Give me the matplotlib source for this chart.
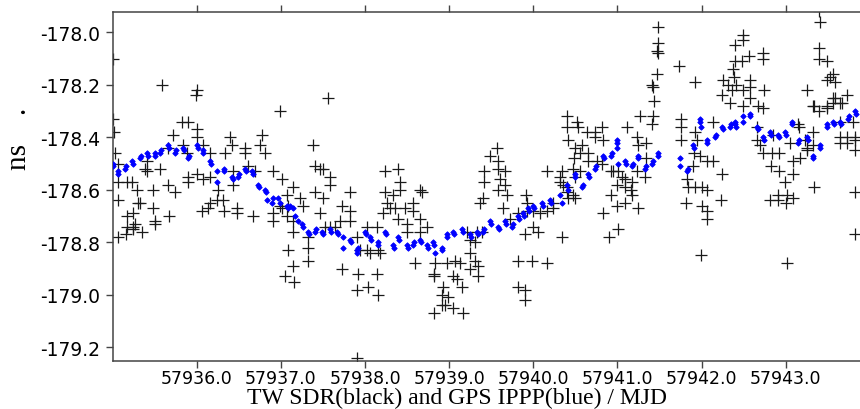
import matplotlib
matplotlib.use("Agg")
import matplotlib.pyplot as plt
from matplotlib.ticker import FixedLocator, FormatStrFormatter

# ---- TW SDR (black crosses): MJD, ns ----
sdr_mjd = [
 57935.00, 57935.01, 57935.02, 57935.03, 57935.06, 57935.06, 57935.17, 57935.23, 57935.29, 57935.41,
 57935.39, 57935.41, 57935.48, 57935.59, 57935.56, 57935.66, 57935.66, 57935.74, 57935.72, 57935.82,
 57935.90, 57935.84, 57935.88, 57935.90, 57935.90, 57936.00, 57935.99, 57936.00, 57936.00, 57936.00,
 57936.07, 57936.07, 57936.16, 57936.16, 57936.25, 57936.34, 57936.40, 57936.42, 57936.43, 57936.43,
 57936.57, 57936.57, 57936.61, 57936.69, 57936.78, 57936.75, 57936.81, 57936.91, 57936.99, 57937.01,
 57937.07, 57937.14,
 57935.06, 57935.17, 57935.24, 57935.17, 57935.24, 57935.27, 57935.24, 57935.35, 57935.16, 57935.06,
 57935.33, 57935.30, 57935.48, 57935.50, 57935.50, 57935.67, 57936.06, 57936.13, 57936.16, 57936.24,
 57936.31, 57936.32, 57936.48, 57936.48, 57936.67, 57936.91, 57936.91, 57937.14, 57937.08, 57937.14,
 57937.05, 57937.16, 57936.99, 57937.07, 57937.14,
 57937.56, 57937.38, 57937.41, 57937.46, 57937.50, 57937.58, 57937.58, 57937.41, 57937.23, 57937.50,
 57937.82, 57938.24, 57938.39, 57938.42, 57938.42, 57938.24, 57938.33, 57938.65, 57938.68, 57939.40,
 57939.41, 57939.41, 57939.49, 57939.57, 57939.58, 57939.58, 57939.66, 57939.61, 57939.66, 57939.58,
 57939.69, 57939.91, 57940.16, 57940.34, 57940.32, 57940.32, 57940.40, 57940.40, 57940.41, 57940.49,
 57940.48, 57940.52, 57940.53, 57940.47, 57940.49, 57940.40, 57940.47,
 57937.01, 57937.08, 57937.26, 57937.46, 57937.32, 57937.32, 57937.32, 57937.52, 57937.58, 57937.64,
 57937.70, 57937.82, 57937.73, 57937.82, 57937.73, 57937.90, 57938.04, 57938.15, 57937.92, 57938.14,
 57937.90, 57937.94, 57938.02, 57938.06, 57938.02, 57938.14, 57938.15, 57938.18, 57938.26, 57938.30,
 57938.36, 57938.21, 57938.39, 57938.47, 57938.57, 57938.57, 57938.50, 57938.65, 57938.74, 57938.50,
 57938.65, 57938.59, 57938.82, 57938.82, 57938.83, 57938.97, 57939.13, 57939.15, 57939.09, 57939.07,
 57939.05, 57938.93, 57938.91, 57938.99, 57938.95, 57938.91, 57939.05, 57938.82, 57939.16, 57939.25,
 57939.31, 57939.34, 57939.34, 57939.25, 57939.25, 57939.31, 57939.33, 57939.21, 57939.37, 57939.39,
 57939.64, 57939.72, 57939.82, 57939.92, 57939.92, 57940.00, 57940.08, 57940.16, 57940.23, 57940.23,
 57939.90, 57940.00, 57940.06, 57939.82, 57939.98, 57940.16, 57939.82, 57939.90, 57939.90, 57940.34,
 57937.90,
 57940.41, 57940.83, 57941.00, 57941.09, 57941.24, 57941.01, 57940.90, 57941.81, 57942.00, 57942.06,
 57942.06, 57942.23, 57941.99, 57942.81, 57942.91, 57943.00, 57943.02, 57943.82,
 57941.48, 57941.48, 57941.47, 57941.48, 57941.47, 57941.41, 57941.42, 57941.43, 57941.42, 57941.41,
 57941.73, 57941.92, 57941.75, 57941.75, 57941.75, 57941.92, 57941.95, 57941.91, 57941.98, 57942.14,
 57942.06, 57942.14, 57941.90, 57941.83, 57941.84, 57941.92, 57942.00, 57942.06, 57942.24, 57942.24,
 57942.25, 57942.31, 57942.34, 57942.40, 57942.40, 57942.48, 57942.49, 57942.49, 57942.37, 57942.39,
 57942.41, 57942.36, 57942.49, 57942.58, 57942.58, 57942.58, 57942.49, 57942.56, 57942.73, 57942.73,
 57942.74, 57942.67, 57942.73, 57942.66, 57942.66, 57942.70, 57942.73, 57942.84, 57942.92, 57942.82,
 57942.92, 57943.09, 57942.99, 57943.09, 57943.17, 57943.15, 57943.16, 57943.05, 57942.85, 57943.23,
 57943.25, 57943.25, 57943.32, 57943.32, 57943.34, 57942.91, 57943.02, 57943.09, 57943.40, 57943.41,
 57943.40, 57943.40, 57943.49, 57943.25, 57943.34, 57943.40, 57943.49, 57943.56, 57943.49, 57943.53,
 57943.56, 57943.59, 57943.59, 57943.67, 57943.73, 57943.65, 57943.73, 57943.82, 57943.65, 57943.73,
 57943.82, 57943.82, 57943.82, 57943.65, 57943.80,
 57940.58, 57940.55, 57940.65, 57940.64, 57940.73, 57940.73, 57940.82, 57940.83, 57940.55, 57940.65,
 57940.76, 57940.82, 57940.92, 57940.95, 57941.01, 57941.00, 57941.09, 57941.06, 57941.09, 57941.11,
 57941.17, 57941.16, 57941.17, 57941.23, 57941.23, 57941.24, 57941.34, 57941.34, 57941.33, 57941.27,
 57940.35, 57940.40, 57940.49, 57940.92,
 57943.56, 57943.32, 57943.49, 57943.65,
]
sdr_ns = [
 -178.10, -178.33, -178.38, -178.46, -178.50, -178.57, -178.57, -178.57, -178.60, -178.49,
 -178.52, -178.53, -178.60, -178.20, -178.52, -178.44, -178.58, -178.61, -178.39, -178.34,
 -178.34, -178.43, -178.46, -178.55, -178.57, -178.22, -178.24, -178.37, -178.40, -178.54,
 -178.56, -178.43, -178.46, -178.55, -178.60, -178.46, -178.40, -178.43, -178.53, -178.58,
 -178.44, -178.46, -178.51, -178.53, -178.39, -178.43, -178.46, -178.53, -178.30, -178.56,
 -178.62, -178.59,
 -178.64, -178.70, -178.69, -178.74, -178.74, -178.73, -178.75, -178.76, -178.77, -178.78,
 -178.65, -178.65, -178.67, -178.72, -178.73, -178.70, -178.68, -178.67, -178.65, -178.64,
 -178.64, -178.68, -178.67, -178.69, -178.70, -178.69, -178.72, -178.76, -178.83, -178.89,
 -178.93, -178.95, -178.66, -178.70, -178.72,
 -178.25, -178.43, -178.51, -178.52, -178.52, -178.55, -178.58, -178.61, -178.63, -178.63,
 -178.61, -178.53, -178.52, -178.57, -178.60, -178.61, -178.62, -178.60, -178.61, -178.63,
 -178.53, -178.57, -178.47, -178.44, -178.49, -178.52, -178.53, -178.56, -178.58, -178.60,
 -178.62, -178.62, -178.53, -178.53, -178.55, -178.57, -178.32, -178.36, -178.41, -178.44,
 -178.48, -178.34, -178.36, -178.52, -178.55, -178.59, -178.62,
 -178.67, -178.66, -178.66, -178.69, -178.78, -178.82, -178.87, -178.74, -178.74, -178.74,
 -178.72, -178.72, -178.66, -178.68, -178.90, -178.98, -178.97, -179.00, -178.92, -178.92,
 -178.78, -178.83, -178.83, -178.84, -178.74, -178.74, -178.83, -178.84, -178.65, -178.67,
 -178.67, -178.69, -178.71, -178.67, -178.68, -178.65, -178.73, -178.71, -178.74, -178.76,
 -178.76, -178.88, -178.92, -178.93, -178.88, -178.88, -178.88, -178.97, -178.94, -178.87,
 -178.93, -178.97, -179.00, -179.01, -179.04, -179.04, -179.05, -179.07, -179.07, -178.84,
 -178.87, -178.89, -178.93, -178.90, -178.79, -178.80, -178.76, -178.76, -178.65, -178.76,
 -178.67, -178.71, -178.69, -178.68, -178.65, -178.68, -178.69, -178.68, -178.67, -178.65,
 -178.77, -178.74, -178.76, -178.87, -178.87, -178.88, -178.97, -178.98, -179.02, -178.78,
 -179.24,
 -178.63, -178.69, -178.66, -178.65, -178.67, -178.75, -178.78, -178.65, -178.66, -178.68,
 -178.71, -178.64, -178.85, -178.64, -178.64, -178.65, -178.88, -178.77,
 -177.98, -178.04, -178.07, -178.08, -178.16, -178.20, -178.21, -178.26, -178.32, -178.35,
 -178.13, -178.19, -178.33, -178.36, -178.41, -178.38, -178.41, -178.46, -178.47, -178.34,
 -178.49, -178.49, -178.51, -178.56, -178.59, -178.59, -178.59, -178.60, -178.54, -178.24,
 -178.18, -178.20, -178.27, -178.11, -178.05, -178.11, -178.01, -178.03, -178.14, -178.17,
 -178.20, -178.22, -178.22, -178.18, -178.21, -178.25, -178.28, -178.09, -178.08, -178.10,
 -178.22, -178.28, -178.29, -178.36, -178.41, -178.43, -178.46, -178.46, -178.46, -178.51,
 -178.53, -178.54, -178.57, -178.49, -178.48, -178.35, -178.36, -178.42, -178.39, -178.41,
 -178.44, -178.45, -178.38, -178.43, -178.59, -178.62, -178.62, -178.63, -177.92, -177.96,
 -178.06, -178.10, -178.11, -178.22, -178.28, -178.30, -178.28, -178.27, -178.18, -178.17,
 -178.16, -178.19, -178.25, -178.27, -178.24, -178.40, -178.40, -178.40, -178.42, -178.42,
 -178.41, -178.45, -178.61, -178.34, -178.34,
 -178.43, -178.46, -178.46, -178.38, -178.38, -178.40, -178.36, -178.41, -178.53, -178.49,
 -178.49, -178.50, -178.53, -178.53, -178.53, -178.58, -178.59, -178.55, -178.56, -178.36,
 -178.57, -178.60, -178.62, -178.53, -178.40, -178.43, -178.42, -178.48, -178.55, -178.32,
 -178.58, -178.61, -178.63, -178.62,
 -178.25, -178.28, -178.29, -178.27,
]

# ---- GPS IPPP (blue dots): MJD, ns ----
gps_mjd = [
 57935.00, 57935.06, 57935.15, 57935.23, 57935.33, 57935.41, 57935.50, 57935.56, 57935.66, 57935.74,
 57935.84, 57935.90, 57936.00, 57936.07, 57936.16, 57936.24, 57936.24, 57936.32, 57936.42, 57936.49,
 57936.57, 57936.66, 57936.73, 57936.81, 57936.91, 57936.97, 57936.84, 57936.89, 57936.99, 57937.07,
 57937.14, 57937.20, 57937.11, 57937.17, 57937.25, 57937.32, 57937.41, 57937.49, 57937.58, 57937.67,
 57937.74, 57937.74, 57937.82, 57937.90, 57937.92, 57938.00, 57938.06, 57938.15, 57938.24, 57938.33,
 57938.39, 57938.50, 57938.57, 57938.65, 57938.74, 57938.81, 57938.83, 57938.91, 57938.97, 57939.05,
 57939.15, 57939.25, 57939.33, 57939.40, 57939.49, 57939.58, 57939.66, 57939.75, 57939.82, 57939.88,
 57939.94, 57940.00, 57940.10, 57940.20, 57940.34, 57940.32, 57940.40, 57940.49, 57940.58, 57940.65,
 57940.73, 57940.83, 57940.92, 57941.00, 57941.01, 57941.09, 57941.17, 57941.24, 57941.33, 57941.41,
 57941.48,
 57941.74, 57941.83, 57941.90, 57941.98, 57942.06, 57942.16, 57942.24, 57942.34, 57942.40, 57942.49,
 57942.58, 57942.66, 57942.73, 57942.81, 57942.91, 57942.99, 57943.07, 57943.15, 57943.25, 57943.32,
 57943.41, 57943.49, 57943.56, 57943.65, 57943.74, 57943.82,
 # second samples inside the visible clusters
 57935.01, 57935.07, 57935.16, 57935.24, 57935.34, 57935.42, 57935.51, 57935.57, 57935.67, 57935.75,
 57935.85, 57935.91, 57936.01, 57936.08, 57936.17, 57936.33, 57936.43, 57936.50, 57936.58, 57936.67,
 57936.74, 57936.82, 57937.08, 57937.26, 57937.33, 57937.42, 57937.50, 57937.59, 57937.68, 57937.83,
 57937.91, 57938.01, 57938.07, 57938.16, 57938.25, 57938.34, 57938.40, 57938.51, 57938.58, 57938.66,
 57938.75, 57938.82, 57938.92, 57938.98, 57939.06, 57939.16, 57939.26, 57939.34, 57939.41, 57939.50,
 57939.59, 57939.67, 57939.76, 57939.83, 57939.89, 57939.95, 57940.01, 57940.11, 57940.21, 57940.41,
 57940.50, 57940.59, 57940.66, 57940.74, 57940.84, 57940.93, 57941.00, 57941.00, 57941.10, 57941.18,
 57941.25, 57941.34, 57941.42, 57941.48,
 57941.74, 57941.84, 57941.91, 57941.98, 57941.99, 57942.07, 57942.17, 57942.25, 57942.35, 57942.40,
 57942.41, 57942.49, 57942.58, 57942.67, 57942.74, 57942.82, 57942.92, 57943.00, 57943.07, 57943.16,
 57943.26, 57943.32, 57943.41, 57943.49, 57943.57, 57943.66, 57943.75, 57943.83,
]
gps_ns = [
 -178.50, -178.53, -178.52, -178.49, -178.48, -178.46, -178.47, -178.46, -178.43, -178.46,
 -178.44, -178.48, -178.43, -178.45, -178.49, -178.53, -178.57, -178.52, -178.55, -178.55,
 -178.52, -178.53, -178.58, -178.60, -178.63, -178.63, -178.64, -178.65, -178.65, -178.66,
 -178.67, -178.72, -178.66, -178.70, -178.73, -178.76, -178.76, -178.76, -178.75, -178.76,
 -178.78, -178.82, -178.79, -178.84, -178.82, -178.76, -178.78, -178.80, -178.76, -178.81,
 -178.78, -178.81, -178.81, -178.79, -178.81, -178.80, -178.84, -178.82, -178.77, -178.76,
 -178.75, -178.77, -178.76, -178.76, -178.72, -178.74, -178.72, -178.74, -178.70, -178.69,
 -178.67, -178.66, -178.65, -178.64, -178.65, -178.62, -178.58, -178.54, -178.59, -178.54,
 -178.52, -178.47, -178.47, -178.41, -178.50, -178.49, -178.51, -178.47, -178.52, -178.50,
 -178.46,
 -178.48, -178.53, -178.43, -178.34, -178.41, -178.40, -178.36, -178.36, -178.34, -178.32,
 -178.31, -178.36, -178.40, -178.38, -178.39, -178.38, -178.34, -178.42, -178.40, -178.47,
 -178.43, -178.35, -178.34, -178.34, -178.33, -178.30,
 -178.51, -178.54, -178.51, -178.50, -178.47, -178.47, -178.46, -178.45, -178.44, -178.45,
 -178.45, -178.47, -178.44, -178.46, -178.50, -178.53, -178.56, -178.54, -178.53, -178.54,
 -178.59, -178.61, -178.67, -178.74, -178.77, -178.75, -178.77, -178.76, -178.77, -178.80,
 -178.83, -178.77, -178.79, -178.81, -178.77, -178.82, -178.79, -178.82, -178.80, -178.80,
 -178.82, -178.81, -178.83, -178.78, -178.77, -178.76, -178.78, -178.77, -178.75, -178.73,
 -178.75, -178.73, -178.73, -178.71, -178.70, -178.68, -178.67, -178.66, -178.65, -178.60,
 -178.55, -178.58, -178.55, -178.51, -178.48, -178.46, -178.42, -178.44, -178.50, -178.50,
 -178.48, -178.51, -178.49, -178.47,
 -178.51, -178.52, -178.44, -178.33, -178.36, -178.42, -178.39, -178.37, -178.35, -178.35,
 -178.36, -178.34, -178.32, -178.37, -178.41, -178.39, -178.40, -178.39, -178.35, -178.41,
 -178.41, -178.48, -178.44, -178.36, -178.35, -178.35, -178.32, -178.31,
]

x_ticks = [57936, 57937, 57938, 57939, 57940, 57941, 57942, 57943]
y_ticks = [-179.2, -179.0, -178.8, -178.6, -178.4, -178.2, -178.0]
x_label = "TW SDR(black) and GPS IPPP(blue) / MJD"
y_label = "ns    ."

W, H = 860, 410
fig = plt.figure(figsize=(W / 100, H / 100), dpi=100)
ax = fig.add_axes([113 / W, 1 - 361.7 / H, (W - 113) / W, (361.7 - 12.7) / H])

ax.plot(sdr_mjd, sdr_ns, linestyle="none", marker="+", markersize=8.5,
        markeredgewidth=0.9, color="#1a1a1a", zorder=2)
ax.plot(gps_mjd, gps_ns, linestyle="none", marker="D", markersize=2.8,
        color="#0000ff", markeredgecolor="#0000ff", markeredgewidth=0.6, zorder=3)

ax.set_xlim(57935.005, 57943.883)
ax.set_ylim(-179.251, -177.9215)

ax.xaxis.set_major_locator(FixedLocator(x_ticks))
ax.yaxis.set_major_locator(FixedLocator(y_ticks))
ax.xaxis.set_major_formatter(FormatStrFormatter("%.1f"))
ax.yaxis.set_major_formatter(FormatStrFormatter("%.1f"))

spine_col = "#444444"
for side in ("left", "top", "bottom"):
    ax.spines[side].set_color(spine_col)
    ax.spines[side].set_linewidth(1.1)
ax.spines["right"].set_visible(False)

ax.tick_params(axis="x", direction="out", length=5, width=1, color=spine_col,
               top=True, labeltop=False, bottom=True, pad=1.0, labelsize=12.5)
ax.tick_params(axis="y", direction="out", length=5, width=1, color=spine_col,
               left=True, right=False, pad=4, labelsize=13.5)
for lab in ax.get_xticklabels() + ax.get_yticklabels():
    lab.set_family("DejaVu Sans")

ax.set_xlabel(x_label, family="Liberation Serif", fontsize=17, va="baseline")
ax.xaxis.set_label_coords((457 - 113) / (W - 113), (361.7 - 404.5) / 349.0)

ax.set_ylabel(y_label, family="Liberation Serif", fontsize=21, va="baseline",
              ha="center", rotation=90, rotation_mode="anchor")
ax.yaxis.set_label_coords((26 - 113) / (W - 113), (361.7 - 138.5) / 349.0)

fig.savefig("out.png", dpi=100)
